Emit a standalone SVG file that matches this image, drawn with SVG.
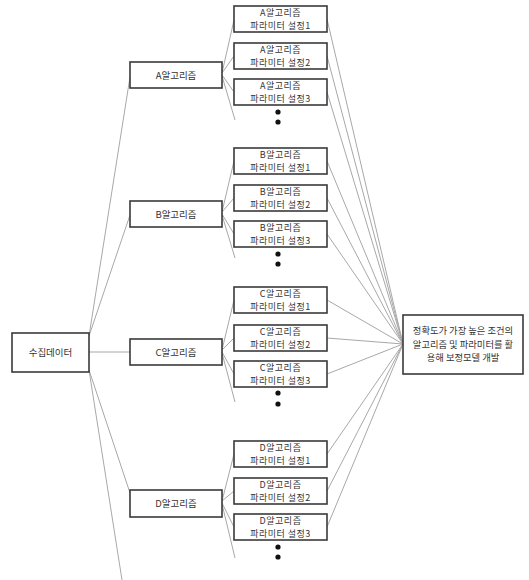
<svg xmlns="http://www.w3.org/2000/svg" width="529" height="580" viewBox="0 0 529 580">
<style>
.box{fill:#fff;stroke:#3a3a3a;stroke-width:1.6}
.t{font-family:"Noto Sans CJK KR","Noto Sans",sans-serif;font-size:9.5px;fill:#333;text-anchor:middle}
.p{font-size:9px;letter-spacing:0.5px}
.g{font-size:9.3px}
.c{stroke:#a8a8a8;stroke-width:1;fill:none}
.dot{fill:#111}
</style>
<rect width="529" height="580" fill="#fff"/>
<g id="connectors">
<line class="c" x1="89" y1="336" x2="130" y2="77"/>
<line class="c" x1="89" y1="336" x2="130" y2="215"/>
<line class="c" x1="89" y1="352" x2="130" y2="352"/>
<line class="c" x1="89" y1="370" x2="130" y2="493"/>
<line class="c" x1="89" y1="370" x2="122" y2="580"/>
<line class="c" x1="222" y1="73" x2="234" y2="20"/>
<line class="c" x1="222" y1="73" x2="234" y2="56"/>
<line class="c" x1="222" y1="75" x2="234" y2="92"/>
<line class="c" x1="222" y1="76" x2="235" y2="120"/>
<line class="c" x1="222" y1="212" x2="234" y2="161"/>
<line class="c" x1="222" y1="212" x2="234" y2="198"/>
<line class="c" x1="222" y1="214" x2="234" y2="234"/>
<line class="c" x1="222" y1="215" x2="235" y2="258"/>
<line class="c" x1="222" y1="350" x2="234" y2="300"/>
<line class="c" x1="222" y1="350" x2="234" y2="338"/>
<line class="c" x1="222" y1="352" x2="234" y2="374"/>
<line class="c" x1="222" y1="353" x2="235" y2="402"/>
<line class="c" x1="222" y1="501" x2="234" y2="454"/>
<line class="c" x1="222" y1="501" x2="234" y2="491"/>
<line class="c" x1="222" y1="503" x2="234" y2="527"/>
<line class="c" x1="222" y1="504" x2="235" y2="558"/>
<line class="c" x1="327" y1="19" x2="403" y2="344"/>
<line class="c" x1="327" y1="56" x2="403" y2="344"/>
<line class="c" x1="327" y1="92" x2="403" y2="344"/>
<line class="c" x1="327" y1="161" x2="403" y2="344"/>
<line class="c" x1="327" y1="198" x2="403" y2="344"/>
<line class="c" x1="327" y1="234" x2="403" y2="344"/>
<line class="c" x1="327" y1="300" x2="403" y2="344"/>
<line class="c" x1="327" y1="338" x2="403" y2="344"/>
<line class="c" x1="327" y1="374" x2="403" y2="344"/>
<line class="c" x1="327" y1="454" x2="403" y2="344"/>
<line class="c" x1="327" y1="491" x2="403" y2="344"/>
<line class="c" x1="327" y1="527" x2="403" y2="344"/>
</g>
<g id="source">
<rect class="box" x="12" y="333" width="77" height="39"/>
<text class="t" x="50.5" y="355.5">수집데이터</text>
</g>
<g id="target">
<rect class="box" x="403" y="315" width="120" height="59"/>
<text class="t g" x="463" y="334">정확도가 가장 높은 조건의</text>
<text class="t g" x="463" y="347.5">알고리즘 및 파라미터를 활</text>
<text class="t g" x="463" y="361">용해 보정모델 개발</text>
</g>
<g id="algA">
<rect class="box" x="130" y="62" width="92" height="26"/>
<text class="t" x="176" y="78.5">A알고리즘</text>
</g>
<g id="algB">
<rect class="box" x="130" y="201" width="92" height="26"/>
<text class="t" x="176" y="217.5">B알고리즘</text>
</g>
<g id="algC">
<rect class="box" x="130" y="339" width="92" height="26"/>
<text class="t" x="176" y="355.5">C알고리즘</text>
</g>
<g id="algD">
<rect class="box" x="130" y="490" width="92" height="27"/>
<text class="t" x="176" y="507">D알고리즘</text>
</g>
<g id="A1"><rect class="box" x="234" y="6" width="93" height="26"/><text class="t p" x="280.5" y="16.3">A알고리즘</text><text class="t p" x="280.5" y="29.4">파라미터 설정1</text></g>
<g id="A2"><rect class="box" x="234" y="43" width="93" height="26"/><text class="t p" x="280.5" y="53.3">A알고리즘</text><text class="t p" x="280.5" y="66.4">파라미터 설정2</text></g>
<g id="A3"><rect class="box" x="234" y="79" width="93" height="26"/><text class="t p" x="280.5" y="89.3">A알고리즘</text><text class="t p" x="280.5" y="102.4">파라미터 설정3</text></g>
<g id="Adots"><circle class="dot" cx="278" cy="112" r="2.6"/><circle class="dot" cx="278" cy="122" r="2.6"/></g>
<g id="B1"><rect class="box" x="234" y="148" width="93" height="26"/><text class="t p" x="280.5" y="158.3">B알고리즘</text><text class="t p" x="280.5" y="171.4">파라미터 설정1</text></g>
<g id="B2"><rect class="box" x="234" y="185" width="93" height="26"/><text class="t p" x="280.5" y="195.3">B알고리즘</text><text class="t p" x="280.5" y="208.4">파라미터 설정2</text></g>
<g id="B3"><rect class="box" x="234" y="221" width="93" height="26"/><text class="t p" x="280.5" y="231.3">B알고리즘</text><text class="t p" x="280.5" y="244.4">파라미터 설정3</text></g>
<g id="Bdots"><circle class="dot" cx="278" cy="254" r="2.6"/><circle class="dot" cx="278" cy="264" r="2.6"/></g>
<g id="C1"><rect class="box" x="234" y="287" width="93" height="26"/><text class="t p" x="280.5" y="297.3">C알고리즘</text><text class="t p" x="280.5" y="310.4">파라미터 설정1</text></g>
<g id="C2"><rect class="box" x="234" y="325" width="93" height="26"/><text class="t p" x="280.5" y="335.3">C알고리즘</text><text class="t p" x="280.5" y="348.4">파라미터 설정2</text></g>
<g id="C3"><rect class="box" x="234" y="361" width="93" height="26"/><text class="t p" x="280.5" y="371.3">C알고리즘</text><text class="t p" x="280.5" y="384.4">파라미터 설정3</text></g>
<g id="Cdots"><circle class="dot" cx="278" cy="393" r="2.6"/><circle class="dot" cx="278" cy="404" r="2.6"/></g>
<g id="D1"><rect class="box" x="234" y="441" width="93" height="26"/><text class="t p" x="280.5" y="451.3">D알고리즘</text><text class="t p" x="280.5" y="464.4">파라미터 설정1</text></g>
<g id="D2"><rect class="box" x="234" y="478" width="93" height="26"/><text class="t p" x="280.5" y="488.3">D알고리즘</text><text class="t p" x="280.5" y="501.4">파라미터 설정2</text></g>
<g id="D3"><rect class="box" x="234" y="514" width="93" height="26"/><text class="t p" x="280.5" y="524.3">D알고리즘</text><text class="t p" x="280.5" y="537.4">파라미터 설정3</text></g>
<g id="Ddots"><circle class="dot" cx="278" cy="547" r="2.6"/><circle class="dot" cx="278" cy="557" r="2.6"/></g>
</svg>
